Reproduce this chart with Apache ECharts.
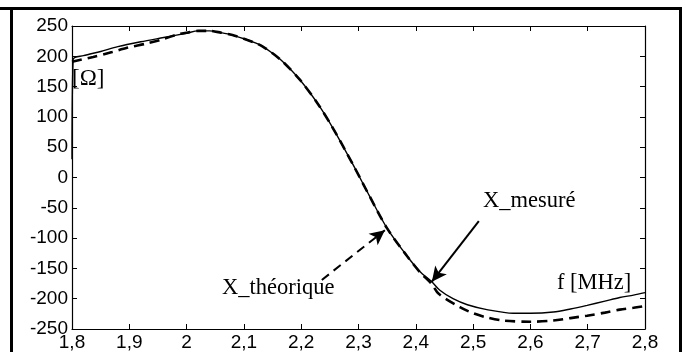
<!DOCTYPE html>
<html>
<head>
<meta charset="utf-8">
<script src="https://cdn.jsdelivr.net/npm/echarts@6/dist/echarts.min.js"></script>
<style>
html,body{margin:0;padding:0;background:#fff;}
#c{width:686px;height:352px;}
</style>
</head>
<body>
<div id="c"></div>
<script>
// Frequency (MHz) and reactance (Ohm)
var measF = [1.8, 1.802, 1.82, 1.85, 1.88, 1.92, 1.96, 2.0, 2.02, 2.04, 2.06, 2.08, 2.1, 2.12, 2.133, 2.15, 2.168, 2.198, 2.228, 2.255, 2.29, 2.32, 2.35, 2.385, 2.407, 2.428, 2.442, 2.465, 2.49, 2.524, 2.57, 2.6, 2.64, 2.67, 2.699, 2.73, 2.756, 2.78, 2.8];
var measX = [30, 195, 201, 208, 216, 224, 231, 238, 242, 242, 239, 235, 229, 222, 216, 205, 191, 161, 123, 82, 22, -32, -84, -130, -155, -172, -186, -200, -210, -218, -224, -224, -222, -217, -211, -204, -198, -194, -190];
var theoF = [1.8, 1.837, 1.87, 1.896, 1.93, 1.954, 1.988, 2.0, 2.02, 2.04, 2.06, 2.08, 2.1, 2.12, 2.133, 2.15, 2.168, 2.198, 2.228, 2.255, 2.29, 2.32, 2.35, 2.385, 2.407, 2.428, 2.44, 2.477, 2.5, 2.524, 2.552, 2.6, 2.64, 2.67, 2.699, 2.73, 2.756, 2.78, 2.8];
var theoX = [191, 199, 207, 214, 221, 227, 237, 239, 242, 242, 239, 235, 229, 222, 216, 205, 191, 161, 123, 82, 22, -32, -84, -130, -156, -176, -192, -214, -224, -231, -236, -238, -236, -232, -228, -223, -218, -215, -212];
var xTicks = [1.8, 1.9, 2.0, 2.1, 2.2, 2.3, 2.4, 2.5, 2.6, 2.7, 2.8];
var xTickLabels = ['1,8', '1,9', '2', '2,1', '2,2', '2,3', '2,4', '2,5', '2,6', '2,7', '2,8'];
var yTicks = [-250, -200, -150, -100, -50, 0, 50, 100, 150, 200, 250];
// annotation arrows [tail, tip] in data coordinates
var arrowTheo = [[2.236, -169], [2.346, -87]];
var arrowMes = [[2.51, -72], [2.428, -172]];

function pairs(f, v) { return f.map(function (x, i) { return [x, v[i]]; }); }
function xLabel(v) {
  var i = xTicks.findIndex(function (t) { return Math.abs(t - v) < 1e-6; });
  return i >= 0 ? xTickLabels[i] : '';
}

var chart = echarts.init(document.getElementById('c'));
var axisLine = { show: true, onZero: false, lineStyle: { color: '#000', width: 1.2 } };
var tick = { show: true, inside: true, length: 5, lineStyle: { color: '#000', width: 1 } };
var lbl = { color: '#000', fontFamily: 'Liberation Sans, Arial, sans-serif', fontSize: 19 };

chart.setOption({
  animation: false,
  backgroundColor: '#fff',
  grid: { left: 72, right: 41, top: 26, bottom: 23, containLabel: false },
  xAxis: [
    { type: 'value', min: 1.8, max: 2.8, interval: 0.1, position: 'bottom',
      axisLine: axisLine, axisTick: tick, splitLine: { show: false },
      axisLabel: Object.assign({ margin: 4, formatter: xLabel }, lbl) },
    { type: 'value', min: 1.8, max: 2.8, interval: 0.1, position: 'top',
      axisLine: axisLine, axisTick: tick, splitLine: { show: false },
      axisLabel: { show: false } }
  ],
  yAxis: [
    { type: 'value', min: yTicks[0], max: yTicks[yTicks.length - 1], interval: 50, position: 'left',
      axisLine: axisLine, axisTick: tick, splitLine: { show: false },
      axisLabel: Object.assign({ margin: 4 }, lbl) },
    { type: 'value', min: yTicks[0], max: yTicks[yTicks.length - 1], interval: 50, position: 'right',
      axisLine: axisLine, axisTick: tick, splitLine: { show: false },
      axisLabel: { show: false } }
  ],
  series: [
    { name: 'X_mesuré', type: 'line', data: pairs(measF, measX), showSymbol: false, smooth: 0.3,
      lineStyle: { color: '#000', width: 1.4 }, z: 3,
      markLine: { silent: true, symbol: ['none', 'arrow'], symbolSize: [11, 15], label: { show: false },
        lineStyle: { color: '#000', width: 2, type: 'solid' },
        data: [[{ coord: arrowMes[0] }, { coord: arrowMes[1] }]] } },
    { name: 'X_théorique', type: 'line', data: pairs(theoF, theoX), showSymbol: false, smooth: 0.3,
      lineStyle: { color: '#000', width: 2.6, type: [10, 6] }, z: 2,
      markLine: { silent: true, symbol: ['none', 'arrow'], symbolSize: [11, 15], label: { show: false },
        lineStyle: { color: '#000', width: 2, type: [9, 6] },
        data: [[{ coord: arrowTheo[0] }, { coord: arrowTheo[1] }]] } }
  ],
  graphic: [
    { type: 'line', shape: { x1: 0, y1: 8.5, x2: 682, y2: 8.5 }, style: { stroke: '#000', lineWidth: 3 } },
    { type: 'line', shape: { x1: 11.5, y1: 8, x2: 11.5, y2: 352 }, style: { stroke: '#000', lineWidth: 3 } },
    { type: 'line', shape: { x1: 680.5, y1: 8, x2: 680.5, y2: 352 }, style: { stroke: '#000', lineWidth: 3 } },
    { type: 'text', x: 72, y: 79, style: { text: '[Ω]', font: '23px "Liberation Serif", serif', fill: '#000', verticalAlign: 'middle' } },
    { type: 'text', x: 483, y: 201, style: { text: 'X_mesuré', font: '22.5px "Liberation Serif", serif', fill: '#000', verticalAlign: 'middle' } },
    { type: 'text', x: 222, y: 288, style: { text: 'X_théorique', font: '22.5px "Liberation Serif", serif', fill: '#000', verticalAlign: 'middle' } },
    { type: 'text', x: 557, y: 283, style: { text: 'f [MHz]', font: '22.5px "Liberation Serif", serif', fill: '#000', verticalAlign: 'middle' } }
  ]
});
</script>
</body>
</html>
